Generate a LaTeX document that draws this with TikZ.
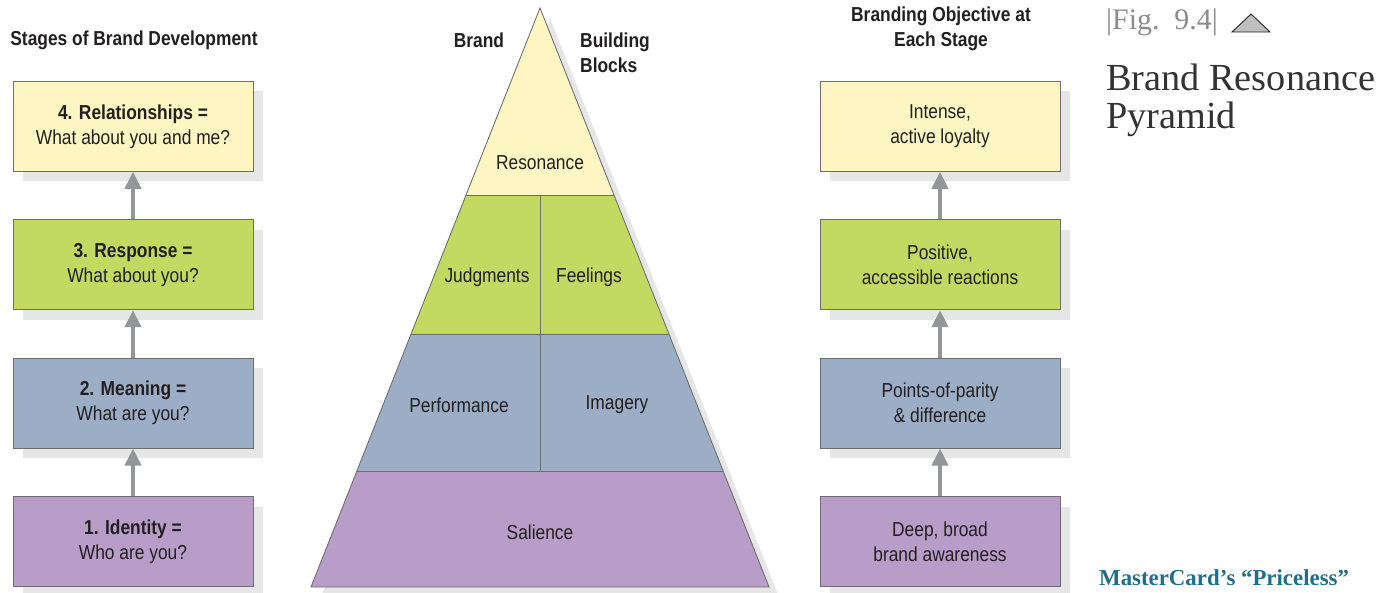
\documentclass[tikz,border=0pt]{standalone}
\usepackage{fontspec}
\setmainfont{Liberation Sans}[FakeStretch=0.86]
\newfontfamily\serifttl{Liberation Serif}
\usetikzlibrary{positioning,arrows.meta,shadows,calc}
\definecolor{relyellow}{HTML}{FDF6C3}
\definecolor{respgreen}{HTML}{C4D961}
\definecolor{meanblue}{HTML}{9CAEC6}
\definecolor{identpurple}{HTML}{B89DC9}
\definecolor{edgegray}{HTML}{6D6E70}
\definecolor{arrowgray}{HTML}{939598}
\definecolor{shadegray}{HTML}{E6E6E6}
\definecolor{inkdark}{HTML}{231F20}
\definecolor{figgray}{HTML}{8C8C8C}
\definecolor{titlegray}{HTML}{333333}
\definecolor{mcteal}{HTML}{1F6E8C}
\begin{document}
\begin{tikzpicture}[x=0.2mm,y=-0.2mm,
    stage/.style={draw=edgegray,line width=0.5pt,minimum width=48mm,minimum height=18mm,
      align=center,text=inkdark,font=\fontsize{11.5}{14.2}\selectfont,
      drop shadow={shadow xshift=2mm,shadow yshift=-2mm,fill=shadegray,opacity=1}},
    head/.style={text=inkdark,font=\bfseries\fontsize{11.5}{14.2}\selectfont},
    blocktxt/.style={text=inkdark,font=\fontsize{11.5}{14.2}\selectfont},
    uparrow/.style={-{Triangle[width=3.2mm,length=3.4mm]},draw=arrowgray,line width=0.8mm},
    edge/.style={draw=edgegray,line width=0.5pt},
    node distance=9.5mm]
      \useasboundingbox (0,0) rectangle (1398,593);

      % headings
      \node[head] (stagehead) at (134,40) {Stages of Brand Development};
      \node[head] (brandhead) at (479,40) {Brand};
      \node[head,anchor=west,align=left] (blockhead) at (574,52.5) {Building\\Blocks};
      \node[head,align=center] (objhead) at (941,28.5) {Branding Objective at\\Each Stage};

      % stages of brand development
      \node[stage,fill=identpurple] (s1) at (133,541.5) {\textbf{1. Identity =}\\Who are you?};
      \node[stage,fill=meanblue,above=of s1] (s2) {\textbf{2. Meaning =}\\What are you?};
      \node[stage,fill=respgreen,above=of s2] (s3) {\textbf{3. Response =}\\What about you?};
      \node[stage,fill=relyellow,above=of s3] (s4) {\textbf{4. Relationships =}\\What about you and me?};

      \draw[uparrow] (s1) -- (s2);
      \draw[uparrow] (s2) -- (s3);
      \draw[uparrow] (s3) -- (s4);

      % branding objectives
      \node[stage,fill=identpurple] (o1) at (940,541.5) {Deep, broad\\brand awareness};
      \node[stage,fill=meanblue,above=of o1] (o2) {Points-of-parity\\\& difference};
      \node[stage,fill=respgreen,above=of o2] (o3) {Positive,\\accessible reactions};
      \node[stage,fill=relyellow,above=of o3] (o4) {Intense,\\active loyalty};

      \draw[uparrow] (o1) -- (o2);
      \draw[uparrow] (o2) -- (o3);
      \draw[uparrow] (o3) -- (o4);

      % pyramid
      \coordinate (apex) at (540,8);
      \coordinate (bl) at (311,587);
      \coordinate (br) at (769,587);
      \coordinate (l1) at ($(apex)!0.323!(bl)$);
      \coordinate (r1) at ($(apex)!0.323!(br)$);
      \coordinate (l2) at ($(apex)!0.563!(bl)$);
      \coordinate (r2) at ($(apex)!0.563!(br)$);
      \coordinate (l3) at ($(apex)!0.7997!(bl)$);
      \coordinate (r3) at ($(apex)!0.7997!(br)$);
      \coordinate (mid1) at ($(l1)!0.5!(r1)$);
      \coordinate (mid3) at ($(l3)!0.5!(r3)$);

      \fill[shadegray] ($(apex)+(10,10)$) -- ($(br)+(10,10)$) -- ($(bl)+(10,10)$) -- cycle;
      \fill[relyellow] (apex) -- (r1) -- (l1) -- cycle;
      \fill[respgreen] (l1) -- (r1) -- (r2) -- (l2) -- cycle;
      \fill[meanblue] (l2) -- (r2) -- (r3) -- (l3) -- cycle;
      \fill[identpurple] (l3) -- (r3) -- (br) -- (bl) -- cycle;
      \draw[edge] (apex) -- (br) -- (bl) -- cycle;
      \draw[edge] (l1) -- (r1);
      \draw[edge] (l2) -- (r2);
      \draw[edge] (l3) -- (r3);
      \draw[edge] (mid1) -- (mid3);

      \node[blocktxt] (resonance) at (540,163) {Resonance};
      \node[blocktxt] (judgments) at (487,277) {Judgments};
      \node[blocktxt] (feelings) at (589,277) {Feelings};
      \node[blocktxt] (performance) at (459,405) {Performance};
      \node[blocktxt] (imagery) at (617,405) {Imagery};
      \node[blocktxt] (salience) at (540,532) {Salience};

      % figure caption
      \node[anchor=west,text=figgray,font=\serifttl\fontsize{17}{17}\selectfont] (fignum) at (1100,22) {|Fig.\ \ 9.4|};
      \draw[draw=inkdark,fill=lightgray,line width=0.5pt] (1232,32) -- (1251,14) -- (1270,32) -- cycle;
      \node[anchor=west,align=left,text=titlegray,font=\serifttl\fontsize{21.8}{21.6}\selectfont] (title) at (1100,100) {Brand Resonance\\Pyramid};
      \node[anchor=west,text=mcteal,font=\serifttl\bfseries\fontsize{13}{13}\selectfont] (mcnote) at (1093,578) {MasterCard’s “Priceless”};
\end{tikzpicture}
\end{document}
